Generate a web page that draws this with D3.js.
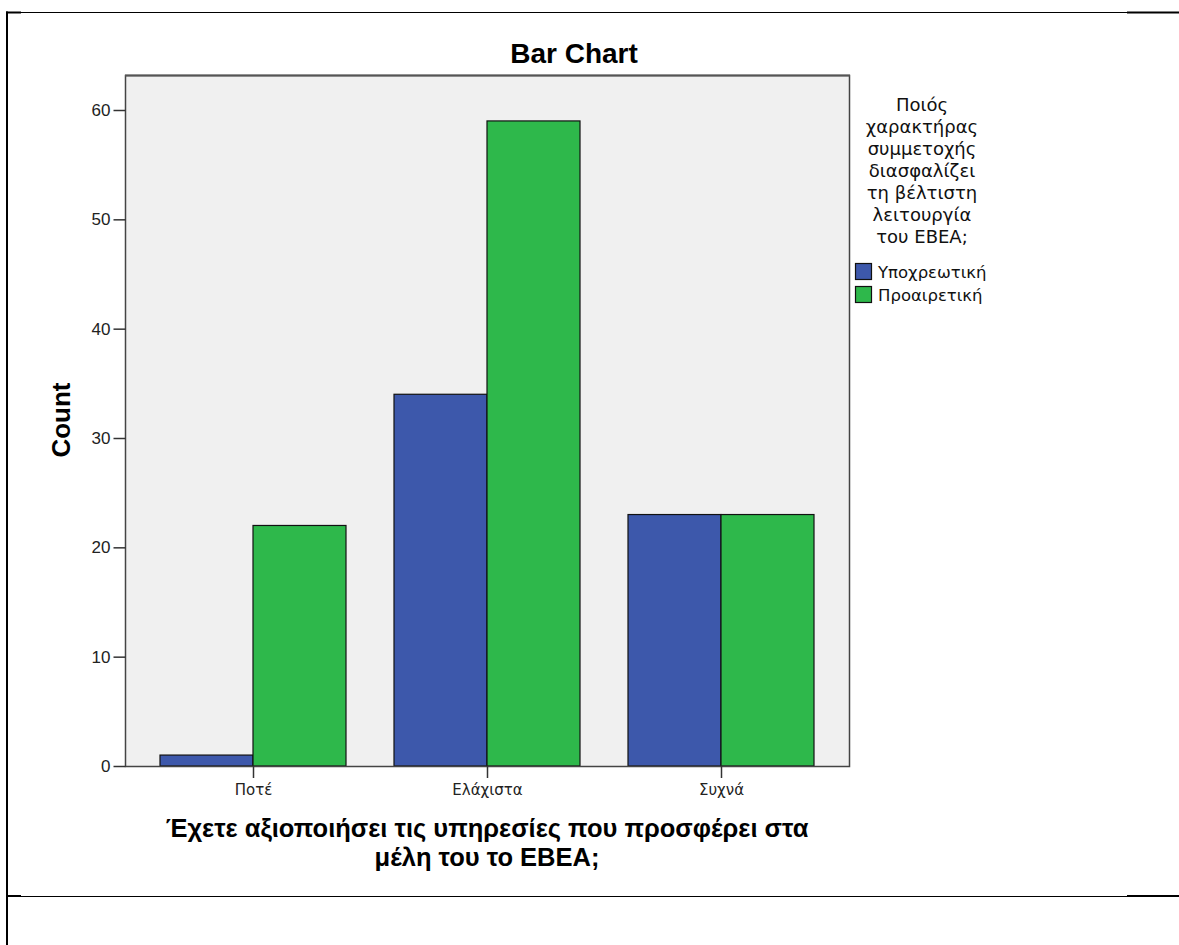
<!DOCTYPE html>
<html><head><meta charset="utf-8">
<script src="https://cdn.jsdelivr.net/npm/d3@7"></script>
<style>body{margin:0;background:#fff}svg{display:block}</style>
</head><body>
<svg id="c" width="1179" height="945"></svg>
<script>
const categories = ["Ποτέ", "Ελάχιστα", "Συχνά"];
const seriesNames = ["Υποχρεωτική", "Προαιρετική"];
const valuesYpoxreotiki = [1, 34, 23];
const valuesProairetiki = [22, 59, 23];
const yTicks = [0, 10, 20, 30, 40, 50, 60];
const seriesColors = ["#3d58ab", "#2eb84b"];
const chartTitle = "Bar Chart";
const yTitle = "Count";
const xTitleLines = ["Έχετε αξιοποιήσει τις υπηρεσίες που προσφέρει στα", "μέλη του το ΕΒΕΑ;"];
const legendTitleLines = ["Ποιός", "χαρακτήρας", "συμμετοχής", "διασφαλίζει", "τη βέλτιστη", "λειτουργία", "του ΕΒΕΑ;"];

const series = [valuesYpoxreotiki, valuesProairetiki];
const svg = d3.select("#c");

// page frame lines
const fr = svg.append("g");
fr.append("line").attr("x1",6).attr("x2",1127).attr("y1",12.5).attr("y2",12.5).attr("stroke","#000").attr("stroke-width",1);
fr.append("line").attr("x1",1127).attr("x2",1179).attr("y1",12.5).attr("y2",12.5).attr("stroke","#000").attr("stroke-width",2);
fr.append("line").attr("x1",6).attr("x2",1127).attr("y1",896.5).attr("y2",896.5).attr("stroke","#000").attr("stroke-width",1);
fr.append("line").attr("x1",1127).attr("x2",1179).attr("y1",896).attr("y2",896).attr("stroke","#000").attr("stroke-width",2);
fr.append("line").attr("x1",7).attr("x2",7).attr("y1",11.5).attr("y2",945).attr("stroke","#000").attr("stroke-width",2);
fr.append("line").attr("x1",6).attr("x2",21).attr("y1",12.5).attr("y2",12.5).attr("stroke","#000").attr("stroke-width",2);
fr.append("line").attr("x1",6).attr("x2",21).attr("y1",896).attr("y2",896).attr("stroke","#000").attr("stroke-width",2);

const plot = {left:125, right:849, top:75, bottom:766};
const y = d3.scaleLinear().domain([0, 60]).range([plot.bottom, 110]);
const x0 = d3.scaleBand().domain(categories).range([plot.left + 35, plot.right - 35]).paddingInner(48/234).paddingOuter(0);
const x1 = d3.scaleBand().domain(seriesNames).range([0, x0.bandwidth()]).padding(0);

// plot background
svg.append("rect").attr("x",plot.left).attr("y",plot.top).attr("width",plot.right-plot.left).attr("height",plot.bottom-plot.top)
  .attr("fill","#f0f0f0");

// bars
const g = svg.append("g");
categories.forEach((c, i) => {
  seriesNames.forEach((s, j) => {
    const v = series[j][i];
    g.append("rect")
      .attr("x", x0(c) + x1(s))
      .attr("y", y(v))
      .attr("width", x1.bandwidth())
      .attr("height", y(0) - y(v))
      .attr("fill", seriesColors[j])
      .attr("stroke", "#111")
      .attr("stroke-width", 1.2);
  });
});

// plot frame
svg.append("rect").attr("x",plot.left+0.5).attr("y",plot.top+0.5).attr("width",plot.right-plot.left).attr("height",plot.bottom-plot.top)
  .attr("fill","none").attr("stroke","#444").attr("stroke-width",1.5);
svg.append("line").attr("x1",plot.left).attr("x2",plot.right+1).attr("y1",plot.top+0.5).attr("y2",plot.top+0.5).attr("stroke","#555").attr("stroke-width",2);

// y axis
const yAxis = d3.axisLeft(y).tickValues(yTicks).tickSize(12).tickPadding(3).tickFormat(d3.format("d"));
const ya = svg.append("g").attr("transform",`translate(${plot.left+0.5},0)`).call(yAxis);
ya.select(".domain").remove();
ya.selectAll(".tick line").attr("stroke","#333").attr("stroke-width",1.5);
ya.selectAll(".tick text").attr("font-family","'Liberation Sans', Arial, sans-serif").attr("font-size",17).attr("fill","#222");

// x axis
const xc = d3.scalePoint().domain(categories).range([x0(categories[0]) + x0.bandwidth()/2, x0(categories[2]) + x0.bandwidth()/2]);
const xAxis = d3.axisBottom(xc).tickSize(12).tickPadding(6);
const xa = svg.append("g").attr("transform",`translate(0,${plot.bottom})`).call(xAxis);
xa.select(".domain").remove();
xa.selectAll(".tick line").attr("stroke","#333").attr("stroke-width",1.5);
xa.selectAll(".tick text").attr("font-family","'DejaVu Sans', sans-serif").attr("font-size",15).attr("fill","#222");

// titles
svg.append("text").attr("x",574).attr("y",63).attr("text-anchor","middle")
  .attr("font-family","'Liberation Sans', Arial, sans-serif").attr("font-weight","bold").attr("font-size",28).text(chartTitle);
svg.append("text").attr("transform","translate(70,420) rotate(-90)").attr("text-anchor","middle")
  .attr("font-family","'Liberation Sans', Arial, sans-serif").attr("font-weight","bold").attr("font-size",26).text(yTitle);
xTitleLines.forEach((t,i)=> svg.append("text").attr("text-anchor","middle")
  .attr("font-family","'Liberation Sans', Arial, sans-serif").attr("font-weight","bold").attr("font-size",25.5)
  .attr("x",(plot.left+plot.right)/2).attr("y",837+i*29).text(t));

// legend
const lg = svg.append("g");
const lt = lg.append("text").attr("text-anchor","middle").attr("font-family","'DejaVu Sans', sans-serif").attr("font-size",18).attr("fill","#111");
legendTitleLines.forEach((t,i)=> lt.append("tspan").attr("x",922).attr("y",111+i*22).text(t));
seriesNames.forEach((s,i)=>{
  lg.append("rect").attr("x",855.5).attr("y",263.5+i*23).attr("width",16).attr("height",16)
    .attr("fill",seriesColors[i]).attr("stroke","#111").attr("stroke-width",1.2);
  lg.append("text").attr("x",878).attr("y",278+i*23).attr("font-family","'DejaVu Sans', sans-serif").attr("font-size",16.5).attr("fill","#111").text(s);
});
</script>
</body></html>
